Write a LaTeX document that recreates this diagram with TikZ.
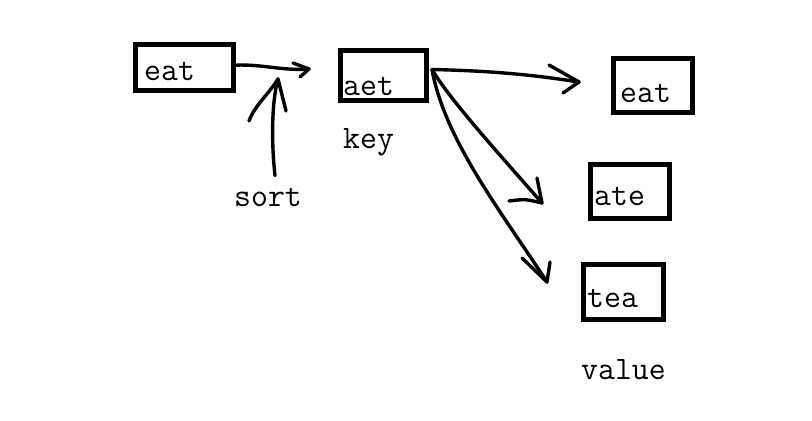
\documentclass[tikz,border=0pt]{standalone}

\tikzset{
    box/.style={draw, line width=4.2pt, inner sep=0pt},
    word/.style={anchor=base west, inner sep=0pt, font=\ttfamily\fontsize{28}{32}\selectfont},
    pen/.style={line width=2.9pt, line cap=round, line join=round}
}

\begin{document}
\begin{tikzpicture}[x=0.03cm, y=-0.03cm]
        \fill[white] (0,0) rectangle (812,421);
        \useasboundingbox (0,0) rectangle (812,421);

        % boxes
        \node[box, minimum width=2.94cm, minimum height=1.38cm] (eat) at (184.5,67.5) {};
        \node[box, minimum width=2.58cm, minimum height=1.50cm] (aet) at (383.5,75.5) {};
        \node[box, minimum width=2.37cm, minimum height=1.62cm] (eatv) at (653,85.5) {};
        \node[box, minimum width=2.37cm, minimum height=1.62cm] (atev) at (630,191.5) {};
        \node[box, minimum width=2.40cm, minimum height=1.65cm] (teav) at (623.5,292) {};

        % words in boxes
        \node[word] (eattext) at (144,80) {eat};
        \node[word] (aettext) at (343,95) {aet};
        \node[word] (eatvtext) at (620,102) {eat};
        \node[word] (atevtext) at (594,205) {ate};
        \node[word] (teavtext) at (587,307) {tea};

        % labels
        \node[word] (key) at (343,148) {key};
        \node[word] (sort) at (234,206) {sort};
        \node[word] (value) at (581,379) {value};

        % arrow tips
        \coordinate (tipsort) at (309,69);
        \coordinate (tipup) at (278,79);
        \coordinate (tipeat) at (579,82);
        \coordinate (tipate) at (542,203);
        \coordinate (tiptea) at (547,282);

        % sort
        \draw[pen] ([yshift=2pt]eat.east) .. controls (262,64) and (282,71) .. (tipsort);
        \draw[pen] (tipsort) ++(-16,-6) -- (tipsort) -- ++(-9,8);
        \draw[pen] ([shift={(7,-12)}]sort.north) .. controls (271,140) and (272,100) .. (tipup);
        \draw[pen] (tipup) .. controls (268,95) and (255,105) .. ++(-29,42);
        \draw[pen] (tipup) -- ++(8,32);

        % key to values
        \draw[pen] ([shift={(3,-6)}]aet.east) .. controls (500,71) and (540,76) .. (tipeat);
        \draw[pen] (tipeat) ++(-30,-17) -- (tipeat) -- ++(-16,11);

        \draw[pen] ([shift={(3,-6)}]aet.east) .. controls (450,100) and (500,155) .. (tipate);
        \draw[pen] (tipate) ++(-5,-25) -- (tipate) .. controls (525,199) .. ++(-33,-2);

        \draw[pen] ([shift={(3,-6)}]aet.east) .. controls (445,140) and (500,210) .. (tiptea);
        \draw[pen] (tiptea) ++(3,-20) -- (tiptea) -- ++(-25,-24);
    \end{tikzpicture}
\end{document}
